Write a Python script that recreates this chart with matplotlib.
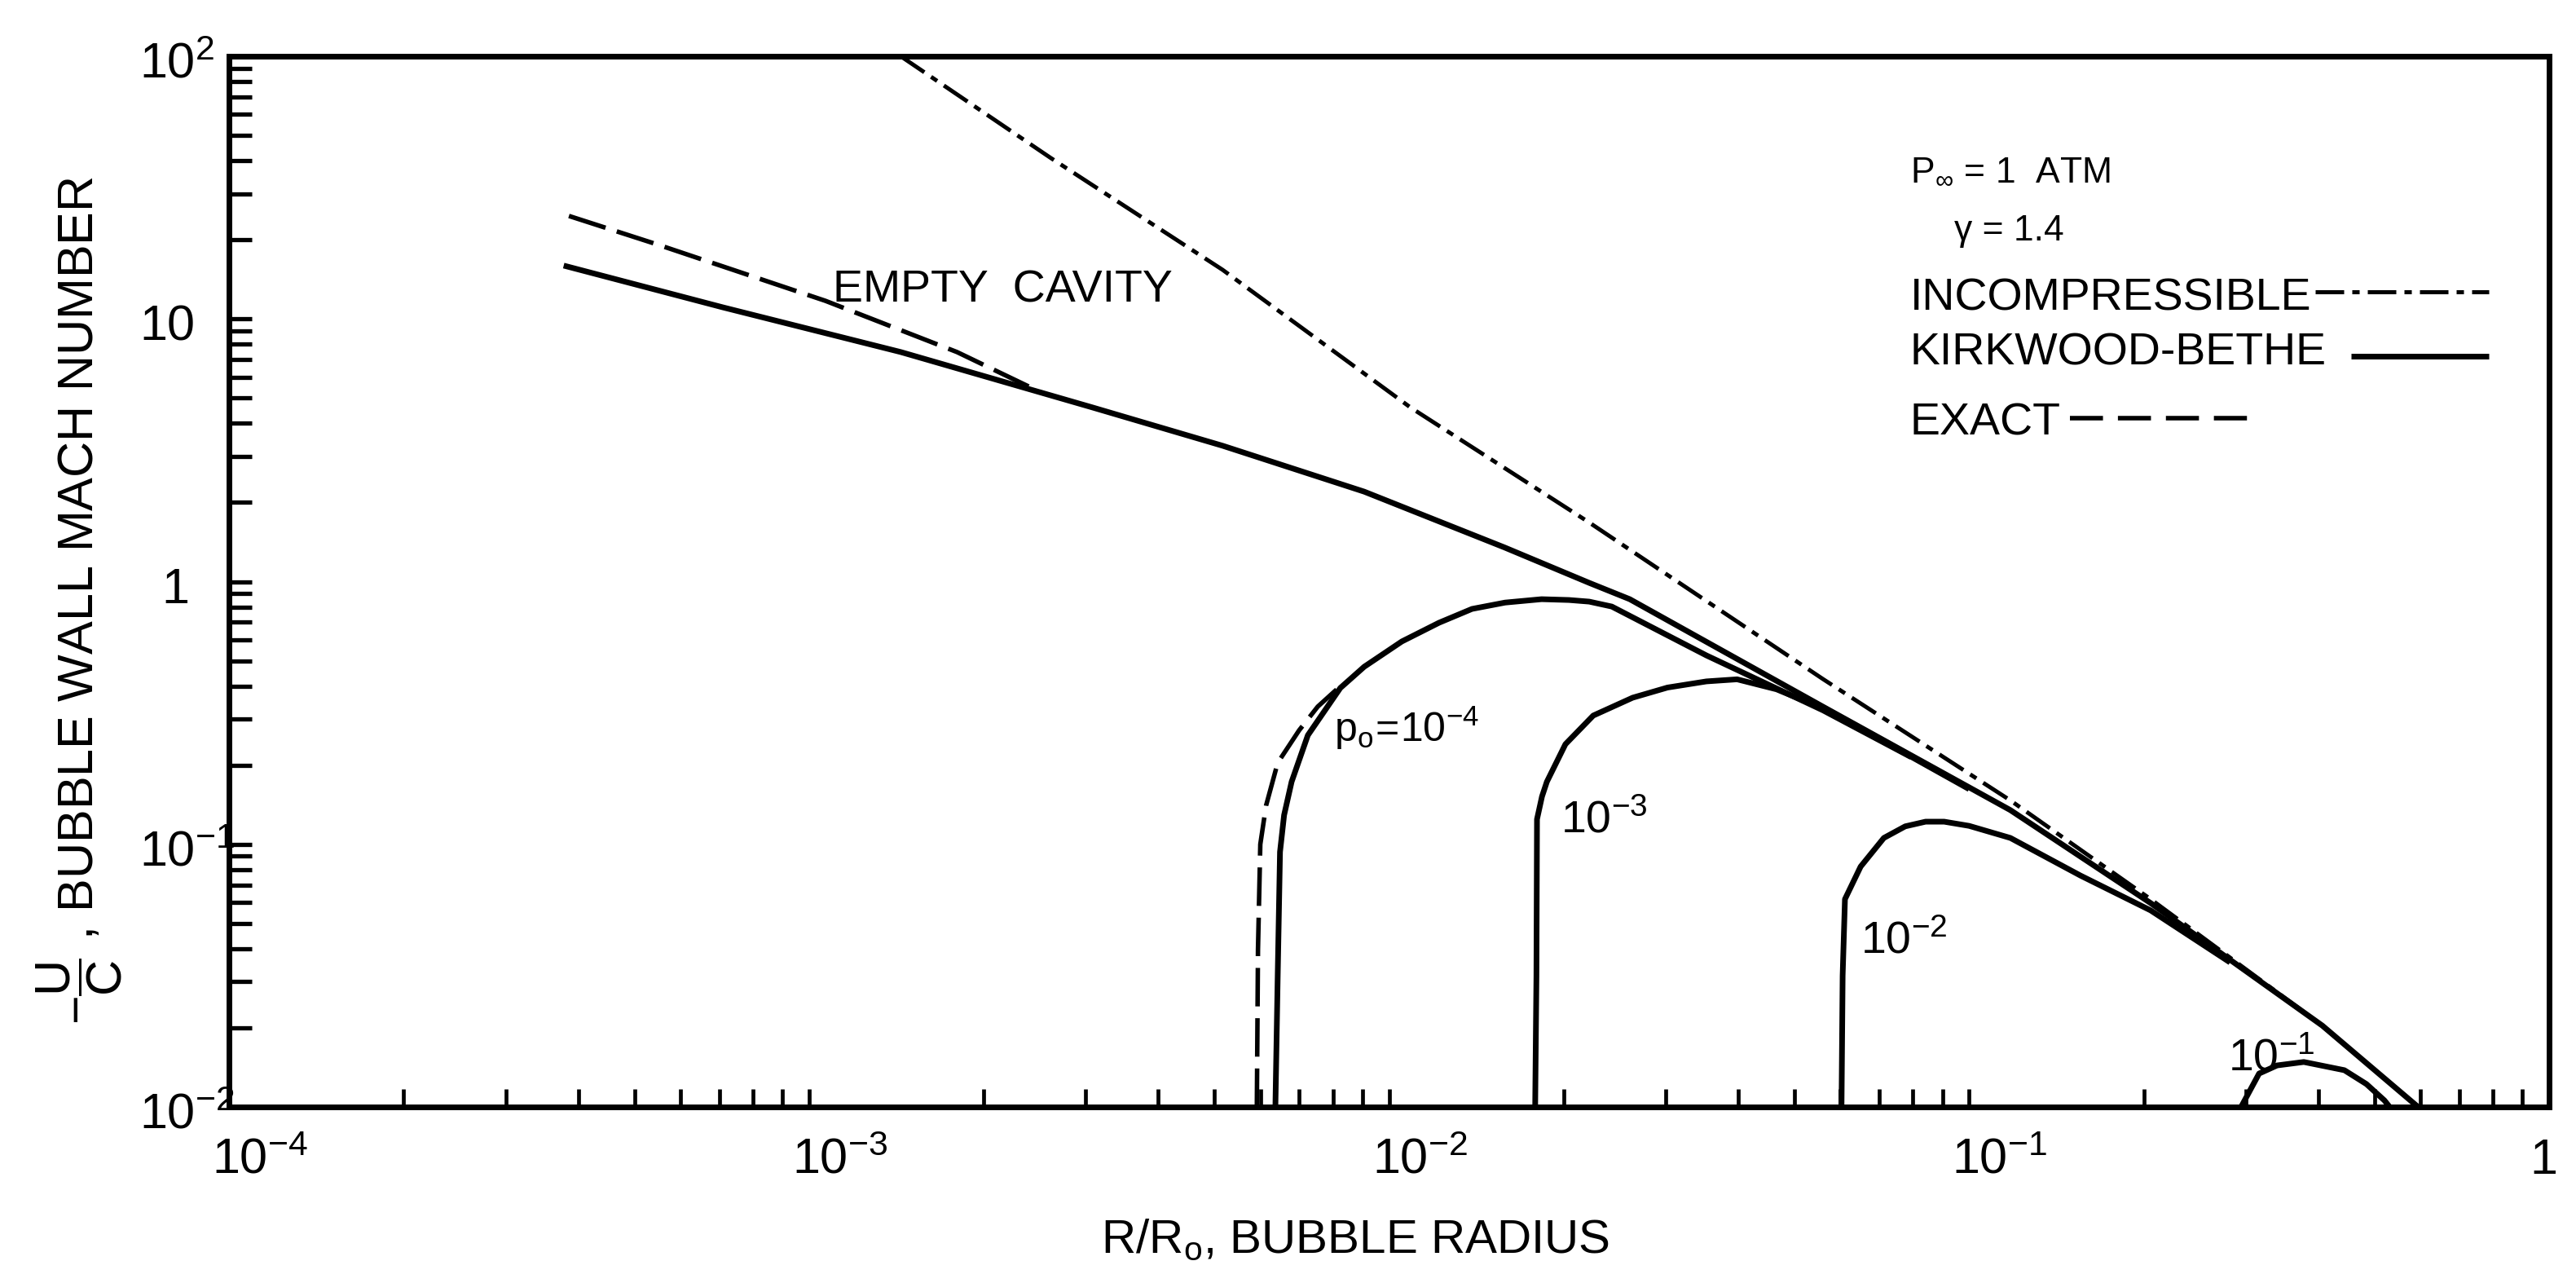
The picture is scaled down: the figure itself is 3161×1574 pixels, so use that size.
import matplotlib
matplotlib.use("Agg")
import matplotlib.pyplot as plt
import matplotlib.transforms as mtransforms
from matplotlib import ticker

plt.rcParams["font.family"] = ["Liberation Sans", "DejaVu Sans"]
plt.rcParams["mathtext.fontset"] = "custom"
plt.rcParams["mathtext.rm"] = "Liberation Sans"
plt.rcParams["mathtext.it"] = "Liberation Sans"
plt.rcParams["mathtext.bf"] = "Liberation Sans:bold"
plt.rcParams["mathtext.default"] = "regular"

# ---- data (R/R0, -U/C) ----
# Kirkwood-Bethe, empty cavity (solid)
kb_x = [3.776e-4, 7.10e-4, 1.439e-3, 3.083e-3, 5.164e-3, 9.06e-3,
        1.58e-2, 2.213e-2, 2.600e-2, 5.598e-2, 0.1178, 0.2056, 0.4064, 0.5943]
kb_y = [15.96, 11.07, 7.48, 4.60, 3.29, 2.20, 1.35, 0.989, 0.857, 0.334,
        0.1349, 0.0597, 0.0204, 0.01]

# incompressible (dash-dot)
inc_x = [1.439e-3, 2.606e-3, 5.164e-3, 1.089e-2, 2.213e-2, 5.598e-2, 0.1178,
         0.2056, 0.4064, 0.5943]
inc_y = [100.0, 41.1, 15.38, 4.60, 1.679, 0.4256, 0.1469, 0.0618, 0.0204, 0.01]

# exact, empty cavity (dashed)
ex_x = [3.855e-4, 5.483e-4, 1.067e-3, 1.799e-3, 2.512e-3]
ex_y = [24.66, 19.19, 11.72, 7.48, 5.25]

# p0 = 1e-4, Kirkwood-Bethe (solid)
p4_x = [6.368e-3, 6.427e-3, 6.486e-3, 6.592e-3, 6.792e-3, 7.244e-3, 8.241e-3,
        9.06e-3, 1.052e-2, 1.219e-2, 1.390e-2, 1.585e-2, 1.832e-2, 2.042e-2,
        2.213e-2, 2.421e-2, 3.524e-2, 5.598e-2, 7.943e-2]
p4_y = [0.01, 0.0316, 0.0935, 0.1291, 0.1730, 0.2600, 0.3936, 0.474, 0.5916,
        0.697, 0.787, 0.832, 0.857, 0.851, 0.839, 0.8035, 0.5236, 0.3236, 0.2148]

# p0 = 1e-4, exact (dashed)
p4e_x = [5.916e-3, 5.943e-3, 5.998e-3, 6.138e-3, 6.427e-3, 6.998e-3, 7.534e-3,
         8.128e-3]
p4e_y = [0.01, 0.0398, 0.1, 0.1406, 0.2042, 0.2716, 0.3342, 0.389]

# p0 = 1e-3
p3_x = [1.786e-2, 1.795e-2, 1.799e-2, 1.835e-2, 1.871e-2, 2.014e-2, 2.249e-2,
        2.630e-2, 3.02e-2, 3.524e-2, 3.981e-2, 4.656e-2, 5.623e-2, 7.079e-2, 0.1]
p3_y = [0.01, 0.0316, 0.1245, 0.152, 0.173, 0.2404, 0.309, 0.3614, 0.395,
        0.4169, 0.4246, 0.389, 0.3273, 0.2483, 0.1622]

# p0 = 1e-2
p2_x = [6.026e-2, 6.053e-2, 6.109e-2, 6.501e-2, 7.129e-2, 7.76e-2, 8.414e-2,
        9.057e-2, 0.1, 0.1178, 0.1556, 0.2056, 0.2818]
p2_y = [0.01, 0.0316, 0.0618, 0.0822, 0.1057, 0.1170, 0.1219, 0.1219, 0.1175,
        0.1057, 0.0760, 0.0560, 0.0355]

# p0 = 1e-1
p1_x = [0.2944, 0.3162, 0.3396, 0.3776, 0.4436, 0.4842, 0.5200, 0.5309]
p1_y = [0.01, 0.01340, 0.01439, 0.01483, 0.01380, 0.01222, 0.01059, 0.01]

# curve labels
curve_labels = ["EMPTY  CAVITY", r"$p_o\!=\!10^{-4}$", r"$10^{-3}$",
                r"$10^{-2}$", r"$10^{-1}$"]
curve_label_x = [1.099e-3, 8.035e-3, 1.977e-2, 6.501e-2, 0.2793]
curve_label_y = [11.56, 0.2455, 0.1104, 0.03855, 0.01380]
curve_label_size = [40, 36, 40, 40, 40]

xticks = [1e-4, 1e-3, 1e-2, 1e-1, 1.0]
xtick_labels = [r"$10^{-4}$", r"$10^{-3}$", r"$10^{-2}$", r"$10^{-1}$", "1"]
yticks = [1e2, 1e1, 1.0, 1e-1, 1e-2]
ytick_labels = [r"$10^{2}$", "10", "1", r"$10^{-1}$", r"$10^{-2}$"]

SOLID = dict(color="black", lw=5, solid_capstyle="butt", solid_joinstyle="round")
DASHED = dict(color="black", lw=4, linestyle=(0, (8.5, 2.6)))
DASHDOT = dict(color="black", lw=3.6, linestyle=(0, (7, 2, 1.8, 2)))

fig = plt.figure(figsize=(31.61, 15.74), dpi=100)
ax = fig.add_axes([0.0889, 0.13723, 0.90067, 0.81893])
ax.set_xscale("log")
ax.set_yscale("log")
ax.set_xlim(1e-4, 1.0)
ax.set_ylim(1e-2, 1e2)

ax.plot(inc_x, inc_y, **DASHDOT)
ax.plot(kb_x, kb_y, **SOLID)
ax.plot(ex_x, ex_y, **DASHED)
ax.plot(p4_x, p4_y, **SOLID)
ax.plot(p4e_x, p4e_y, **DASHED)
ax.plot(p3_x, p3_y, **SOLID)
ax.plot(p2_x, p2_y, **SOLID)
ax.plot(p1_x, p1_y, **SOLID)

for txt, lx, ly, fs in zip(curve_labels, curve_label_x, curve_label_y,
                           curve_label_size):
    ax.text(lx, ly, txt, fontsize=fs, ha="left", va="baseline")

# axes frame and ticks
for sp in ax.spines.values():
    sp.set_linewidth(5)
sub = [2, 3, 4, 5, 6, 7, 8, 9]
ax.xaxis.set_major_locator(ticker.FixedLocator(xticks))
ax.yaxis.set_major_locator(ticker.FixedLocator(yticks))
ax.xaxis.set_minor_locator(ticker.LogLocator(base=10, subs=sub, numticks=50))
ax.yaxis.set_minor_locator(ticker.LogLocator(base=10, subs=sub, numticks=50))
ax.tick_params(which="both", direction="in", top=False, right=False,
               labelbottom=False, labelleft=False)
ax.tick_params(axis="y", which="both", length=20, width=3.8)
ax.tick_params(axis="x", which="both", length=16, width=3.4)

# tick labels, placed by hand so the "10" sits on the tick
xtr = ax.get_xaxis_transform()
for xv, lab in zip(xticks, xtick_labels):
    if lab == "1":
        tr = mtransforms.offset_copy(xtr, fig=fig, x=-5, y=-59, units="points")
        ax.text(xv, 0, lab, transform=tr, fontsize=44, ha="center", va="baseline")
    else:
        tr = mtransforms.offset_copy(xtr, fig=fig, x=-15, y=-59, units="points")
        ax.text(xv, 0, lab, transform=tr, fontsize=44, ha="left", va="baseline")

ytr = ax.get_yaxis_transform()
for yv, lab in zip(yticks, ytick_labels):
    if lab == "1":
        tr = mtransforms.offset_copy(ytr, fig=fig, x=-47, y=-19, units="points")
        ax.text(0, yv, lab, transform=tr, fontsize=44, ha="center", va="baseline")
    else:
        tr = mtransforms.offset_copy(ytr, fig=fig, x=-79, y=-19, units="points")
        ax.text(0, yv, lab, transform=tr, fontsize=44, ha="left", va="baseline")

# axis titles
ax.text(-0.0646, 0.4825, r"$-\dfrac{U}{C}$ , BUBBLE WALL MACH NUMBER",
        transform=ax.transAxes, rotation=90, fontsize=44,
        ha="center", va="center")
ax.text(0.4854, -0.1389, r"$R/R_o$, BUBBLE RADIUS", transform=ax.transAxes,
        fontsize=42, ha="center", va="baseline")

# key
ax.text(0.7246, 0.8813, r"$P_\infty$ = 1  ATM", transform=ax.transAxes,
        fontsize=32, ha="left", va="baseline")
ax.text(0.7436, 0.8247, "γ = 1.4", transform=ax.transAxes,
        fontsize=32, ha="left", va="baseline")
ax.text(0.7246, 0.7587, "INCOMPRESSIBLE", transform=ax.transAxes,
        fontsize=40, ha="left", va="baseline")
ax.text(0.7246, 0.7067, "KIRKWOOD-BETHE", transform=ax.transAxes,
        fontsize=40, ha="left", va="baseline")
ax.text(0.7246, 0.6400, "EXACT", transform=ax.transAxes,
        fontsize=40, ha="left", va="baseline")
ax.plot([0.8992, 0.9740], [0.7758, 0.7758], transform=ax.transAxes, **DASHDOT)
ax.plot([0.9146, 0.9740], [0.7145, 0.7145], transform=ax.transAxes, **SOLID)
ax.plot([0.7935, 0.8707], [0.6555, 0.6555], transform=ax.transAxes,
        color="black", lw=4, linestyle=(0, (7.3, 3.3)))

fig.savefig("out.png", dpi=100, facecolor="white")
